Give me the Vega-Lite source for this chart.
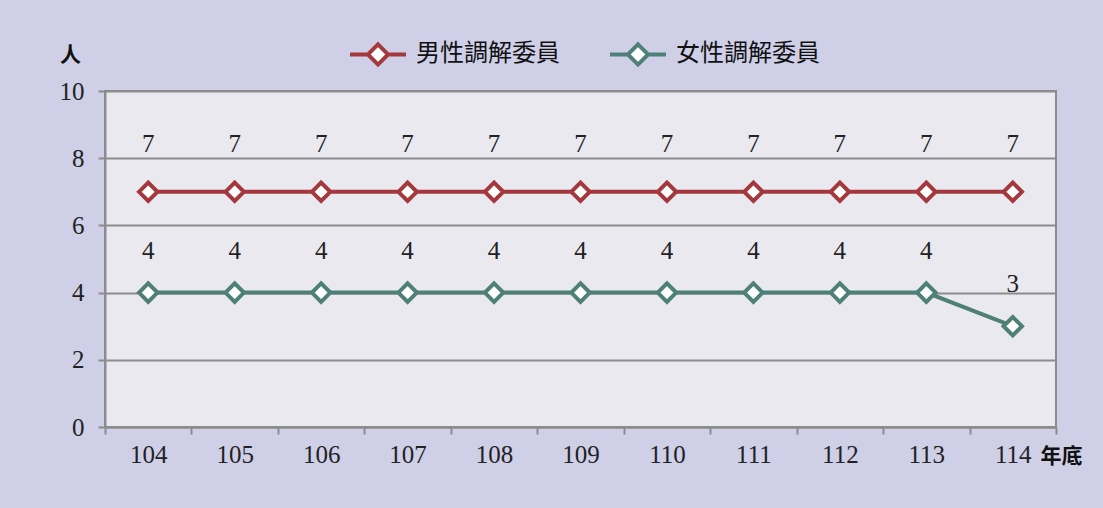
{
  "$schema": "https://vega.github.io/schema/vega-lite/v6.json",
  "width": 951,
  "height": 336,
  "autosize": {"type": "none"},
  "padding": {"left": 105, "top": 91, "right": 47, "bottom": 81},
  "background": "#cfcfe8",
  "config": {
    "view": {"fill": "#ebe9f0", "stroke": "#8c8c8c", "strokeWidth": 2},
    "axis": {
      "labelFont": "Liberation Serif",
      "labelFontSize": 25,
      "labelColor": "#222222",
      "domainColor": "#8c8c8c",
      "domainWidth": 2,
      "tickColor": "#8c8c8c",
      "tickWidth": 2,
      "tickSize": 7,
      "titleFont": "Noto Sans CJK TC",
      "titleFontSize": 21,
      "titleFontWeight": "bold",
      "titleColor": "#111111"
    }
  },
  "data": {
    "values": [
      {"year": "104", "series": "男性調解委員", "value": 7},
      {"year": "105", "series": "男性調解委員", "value": 7},
      {"year": "106", "series": "男性調解委員", "value": 7},
      {"year": "107", "series": "男性調解委員", "value": 7},
      {"year": "108", "series": "男性調解委員", "value": 7},
      {"year": "109", "series": "男性調解委員", "value": 7},
      {"year": "110", "series": "男性調解委員", "value": 7},
      {"year": "111", "series": "男性調解委員", "value": 7},
      {"year": "112", "series": "男性調解委員", "value": 7},
      {"year": "113", "series": "男性調解委員", "value": 7},
      {"year": "114", "series": "男性調解委員", "value": 7},
      {"year": "104", "series": "女性調解委員", "value": 4},
      {"year": "105", "series": "女性調解委員", "value": 4},
      {"year": "106", "series": "女性調解委員", "value": 4},
      {"year": "107", "series": "女性調解委員", "value": 4},
      {"year": "108", "series": "女性調解委員", "value": 4},
      {"year": "109", "series": "女性調解委員", "value": 4},
      {"year": "110", "series": "女性調解委員", "value": 4},
      {"year": "111", "series": "女性調解委員", "value": 4},
      {"year": "112", "series": "女性調解委員", "value": 4},
      {"year": "113", "series": "女性調解委員", "value": 4},
      {"year": "114", "series": "女性調解委員", "value": 3}
    ]
  },
  "encoding": {
    "x": {
      "field": "year",
      "type": "ordinal",
      "scale": {"type": "band", "paddingInner": 0, "paddingOuter": 0},
      "axis": {
        "labelAngle": 0,
        "tickBand": "extent",
        "labelPadding": 8,
        "title": "年底",
        "titleX": 935,
        "titleY": 29,
        "titleAlign": "left",
        "titleBaseline": "middle",
        "titleAnchor": null
      }
    },
    "y": {
      "field": "value",
      "type": "quantitative",
      "scale": {"domain": [0, 10], "nice": false},
      "axis": {
        "values": [0, 2, 4, 6, 8, 10],
        "grid": true,
        "gridColor": "#8c8c8c",
        "gridWidth": 2,
        "labelPadding": 14,
        "title": "人",
        "titleAngle": 0,
        "titleX": -35,
        "titleY": -36,
        "titleAlign": "center",
        "titleBaseline": "middle",
        "titleAnchor": null
      }
    },
    "color": {
      "field": "series",
      "type": "nominal",
      "scale": {
        "domain": ["男性調解委員", "女性調解委員"],
        "range": ["#a3393d", "#4f8078"]
      },
      "legend": {
        "title": null,
        "orient": "none",
        "direction": "horizontal",
        "legendX": 243,
        "legendY": -67,
        "symbolType": "M-1,0H-0.36M0.36,0H1M0,-0.36L0.36,0L0,0.36L-0.36,0Z",
        "symbolSize": 3136,
        "symbolStrokeWidth": 4,
        "symbolFillColor": "white",
        "labelFont": "Noto Sans CJK TC",
        "labelFontSize": 24,
        "labelColor": "#111111",
        "labelOffset": 8,
        "columnPadding": 42,
        "labelLimit": 300,
        "encode": {"symbols": {"update": {"fill": {"value": "white"}, "strokeWidth": {"value": 4}}}}
      }
    }
  },
  "layer": [
    {"mark": {"type": "line", "strokeWidth": 4}},
    {
      "mark": {"type": "point", "shape": "diamond", "filled": false, "fill": "white", "fillOpacity": 1, "size": 340, "strokeWidth": 4, "opacity": 1}
    },
    {
      "transform": [{"filter": "datum.series === '男性調解委員'"}],
      "mark": {"type": "text", "dy": -48, "font": "Liberation Serif", "fontSize": 25, "color": "#222222"},
      "encoding": {"text": {"field": "value", "type": "quantitative"}, "color": {"value": "#222222"}}
    },
    {
      "transform": [{"filter": "datum.series === '女性調解委員'"}],
      "mark": {"type": "text", "dy": -42, "font": "Liberation Serif", "fontSize": 25, "color": "#222222"},
      "encoding": {"text": {"field": "value", "type": "quantitative"}, "color": {"value": "#222222"}}
    }
  ]
}
